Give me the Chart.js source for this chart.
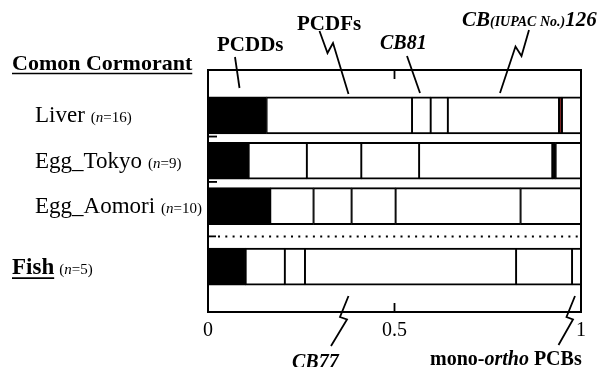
<!DOCTYPE html>
<html>
<head>
  <title>Cormorant TEQ profile</title>
  <script src="https://cdn.jsdelivr.net/npm/chart.js"></script>
  <style>
    body { margin: 0; background: #fff; }
    canvas { display: block; }
  </style>
</head>
<body>
  <canvas id="chartCanvas" width="609" height="367"></canvas>

  <script>
    // rows (top to bottom) and sample sizes
    const groups = ["Liver", "Egg_Tokyo", "Egg_Aomori", "Fish"];
    const sampleN = [16, 9, 10, 5];

    // fraction of total TEQ per congener group
    const pcdds = [0.157, 0.109, 0.167, 0.101];
    const pcdfs = [0.390, 0.156, 0.116, 0.105];
    const cb81 = [0.050, 0.146, 0.102, 0.054];
    const cb77 = [0.046, 0.155, 0.118, 0.566];
    const cb126 = [0.298, 0.357, 0.335, 0.150];
    const cb169 = [0.008, 0.009, null, null];
    const monoOrtho = [0.051, 0.068, 0.162, 0.024];

    const xTicks = [0, 0.5, 1];

    // layout: row slot on a 0..14 vertical scale
    const rowAt = [2, 5, 8, 12];
    const serif = '"Liberation Serif", "Times New Roman", serif';

    function rows(vals) {
      return vals.map((v, i) => ({ x: v, y: rowAt[i] }));
    }

    function seg(label, vals, fill) {
      return {
        label: label,
        data: rows(vals),
        backgroundColor: fill,
        borderColor: "#000",
        borderWidth: { top: 2, bottom: 2, left: 1.3, right: 1.3 },
        borderSkipped: false,
        barThickness: 37
      };
    }

    const datasets = [
      seg("PCDDs", pcdds, "#000"),
      seg("PCDFs", pcdfs, "#fff"),
      seg("CB81", cb81, "#fff"),
      seg("CB77", cb77, "#fff"),
      seg("CB126", cb126, "#fff"),
      seg("CB169", cb169, ["#7a2424", "#000", "#000", "#000"]),
      seg("mono-ortho PCBs", monoOrtho, "#fff")
    ];

    // draw a run of differently styled text pieces on one baseline
    function runs(ctx, x, y, parts) {
      parts.forEach(p => {
        ctx.font = p[1];
        ctx.fillText(p[0], x, y);
        x += ctx.measureText(p[0]).width;
      });
      return x;
    }

    function poly(ctx, pts) {
      ctx.beginPath();
      ctx.moveTo(pts[0][0], pts[0][1]);
      pts.slice(1).forEach(p => ctx.lineTo(p[0], p[1]));
      ctx.stroke();
    }

    const decor = {
      id: "decor",
      afterDraw(chart) {
        const ctx = chart.ctx;
        const a = chart.chartArea;
        const xs = chart.scales.x, ys = chart.scales.y;
        ctx.save();
        ctx.strokeStyle = "#000";
        ctx.fillStyle = "#000";
        ctx.textBaseline = "alphabetic";
        ctx.textAlign = "left";

        // frame
        ctx.lineWidth = 2;
        ctx.strokeRect(a.left, a.top, a.right - a.left, a.bottom - a.top);

        // inner ticks
        ctx.lineWidth = 1.8;
        const xm = xs.getPixelForValue(0.5);
        poly(ctx, [[xm, a.top], [xm, a.top + 9]]);
        poly(ctx, [[xm, a.bottom], [xm, a.bottom - 9]]);
        [3.4, 6.4].forEach(v => {
          const y = ys.getPixelForValue(v);
          poly(ctx, [[a.left, y], [a.left + 9, y]]);
        });

        // dotted split between cormorant and fish
        const yd = ys.getPixelForValue(10);
        poly(ctx, [[a.left, yd], [a.left + 8, yd]]);
        ctx.lineWidth = 2;
        ctx.setLineDash([2, 5.3]);
        poly(ctx, [[a.left + 10, yd], [a.right - 2, yd]]);
        ctx.setLineDash([]);

        // row labels
        const big = "23px " + serif;
        const small = "15px " + serif;
        const smallIt = "italic 15px " + serif;
        groups.forEach((g, i) => {
          const y = ys.getPixelForValue(rowAt[i]) + 7;
          let x;
          if (g === "Fish") {
            x = runs(ctx, 12, y, [[g, "bold " + big]]);
            ctx.lineWidth = 1.6;
            poly(ctx, [[12, y + 4.5], [x, y + 4.5]]);
            x += 5;
          } else {
            x = runs(ctx, 35, y, [[g, big]]) + 6;
          }
          runs(ctx, x, y, [["(", small], ["n", smallIt], ["=" + sampleN[i] + ")", small]]);
        });

        // group heading
        const hx = runs(ctx, 12, 70, [["Comon Cormorant", "bold 22px " + serif]]);
        ctx.lineWidth = 1.6;
        poly(ctx, [[12, 73.5], [hx, 73.5]]);

        // component callouts
        const b21 = "bold 21px " + serif;
        const bi21 = "italic bold 21px " + serif;
        const bi20 = "italic bold 20px " + serif;
        runs(ctx, 217, 50.5, [["PCDDs", b21]]);
        runs(ctx, 297, 29.5, [["PCDFs", b21]]);
        runs(ctx, 380, 49, [["CB81", bi20]]);
        runs(ctx, 462, 26, [["CB", bi21], ["(IUPAC No.)", "italic bold 14px " + serif], ["126", bi21]]);
        runs(ctx, 292, 368, [["CB77", bi20]]);
        runs(ctx, 430, 365, [["mono-", "bold 20px " + serif], ["ortho", bi20], [" PCBs", "bold 20px " + serif]]);

        ctx.lineWidth = 1.8;
        poly(ctx, [[235, 57], [239.5, 88]]);
        poly(ctx, [[319.5, 31], [327.5, 53], [333, 43], [348.5, 94]]);
        poly(ctx, [[407, 56], [420, 93]]);
        poly(ctx, [[529, 30], [521.5, 56], [515.5, 46.5], [500, 93]]);
        poly(ctx, [[348.5, 296], [340, 317], [347, 319.5], [331, 346]]);
        poly(ctx, [[575, 296], [566.5, 317], [573, 319.5], [558.5, 345]]);

        ctx.restore();
      }
    };

    const ctx = document.getElementById("chartCanvas").getContext("2d");
    new Chart(ctx, {
      type: "bar",
      data: { datasets: datasets },
      options: {
        indexAxis: "y",
        responsive: false,
        animation: false,
        layout: { padding: { left: 208, right: 28, top: 70, bottom: 0 } },
        scales: {
          x: {
            type: "linear",
            stacked: true,
            min: 0,
            max: 1,
            afterBuildTicks(s) { s.ticks = xTicks.map(v => ({ value: v })); },
            afterFit(s) { s.height = 55; },
            ticks: {
              color: "#000",
              padding: 7,
              font: { family: serif, size: 20 },
              callback: v => String(v)
            },
            grid: { display: false, drawTicks: false },
            border: { display: false }
          },
          y: {
            type: "linear",
            stacked: true,
            min: 0,
            max: 14,
            reverse: true,
            display: false
          }
        },
        plugins: {
          legend: { display: false },
          tooltip: { enabled: false }
        }
      },
      plugins: [decor]
    });
  </script>
</body>
</html>
